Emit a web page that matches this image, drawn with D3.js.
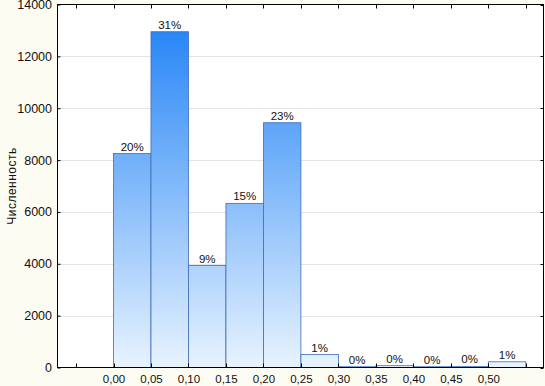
<!DOCTYPE html>
<html><head><meta charset="utf-8">
<script src="https://cdn.jsdelivr.net/npm/d3@7"></script>
<style>
body{margin:0;background:#fdfcf2;}
svg{display:block;font-family:"Liberation Sans",Arial,sans-serif;}
</style></head>
<body><svg id="c" width="545" height="386"></svg>
<script>
const binStarts = [0.00,0.05,0.10,0.15,0.20,0.25,0.30,0.35,0.40,0.45,0.50];
const counts = [8250,12950,3930,6330,9440,500,30,70,30,40,220];
const pctLabels = ["20%","31%","9%","15%","23%","1%","0%","0%","0%","0%","1%"];
const xTickLabels = ["0,00","0,05","0,10","0,15","0,20","0,25","0,30","0,35","0,40","0,45","0,50"];
const yTicks = [0,2000,4000,6000,8000,10000,12000,14000];
const yTitle = "Численность";

const svg = d3.select("#c");
const L=57.5, R=543.5, T=4.5, B=367.5;
const x = d3.scaleLinear().domain([0,0.55]).range([113.5,525.8]);
const y = d3.scaleLinear().domain([0,14000]).range([B,T]);

const defs = svg.append("defs");
const g = defs.append("linearGradient").attr("id","bg").attr("gradientUnits","userSpaceOnUse")
  .attr("x1",0).attr("x2",0).attr("y1",T).attr("y2",B);
g.append("stop").attr("offset","0%").attr("stop-color","#1a7ef5");
g.append("stop").attr("offset","100%").attr("stop-color","#e8f3ff");

svg.append("rect").attr("x",L).attr("y",T).attr("width",R-L).attr("height",B-T).attr("fill","#fff");

// gridlines
svg.append("g").selectAll("line").data(yTicks.filter(d=>d>0&&d<14000)).join("line")
  .attr("x1",L).attr("x2",R).attr("y1",d=>Math.round(y(d))+0.5).attr("y2",d=>Math.round(y(d))+0.5)
  .attr("stroke","#e4e4e4").attr("stroke-width",1);

// bars
svg.append("g").selectAll("rect").data(binStarts).join("rect")
  .attr("x",(d)=>x(d)).attr("width",(d)=>x(d+0.05)-x(d))
  .attr("y",(d,i)=>y(counts[i])).attr("height",(d,i)=>B-y(counts[i]))
  .attr("fill","url(#bg)").attr("stroke","#3d6db8").attr("stroke-width",0.8);

// pct labels
svg.append("g").selectAll("text").data(binStarts).join("text")
  .attr("x",d=>x(d+0.025)).attr("y",(d,i)=>y(counts[i])-3)
  .attr("text-anchor","middle").attr("font-size",11.5).attr("fill","#111")
  .text((d,i)=>pctLabels[i]);

// frame
svg.append("rect").attr("x",L).attr("y",T).attr("width",R-L).attr("height",B-T)
  .attr("fill","none").attr("stroke","#000").attr("stroke-width",1);

// bottom axis labels
const xAxis = d3.axisBottom(x).tickValues(binStarts).tickSize(0).tickPadding(7)
  .tickFormat((d,i)=>xTickLabels[i]);
const gx = svg.append("g").attr("transform",`translate(0,${B})`).call(xAxis);
gx.select(".domain").remove();
gx.selectAll("text").attr("font-size",11.5).attr("fill","#111").attr("font-family","Liberation Sans, Arial");

// inward ticks top and bottom
const tickXs = d3.range(-0.05,0.551,0.05);
svg.append("g").selectAll("line").data(tickXs).join("line")
  .attr("x1",d=>Math.round(x(d))+0.5).attr("x2",d=>Math.round(x(d))+0.5)
  .attr("y1",T).attr("y2",T+4).attr("stroke","#000");
svg.append("g").selectAll("line").data(tickXs).join("line")
  .attr("x1",d=>Math.round(x(d))+0.5).attr("x2",d=>Math.round(x(d))+0.5)
  .attr("y1",B).attr("y2",B-4).attr("stroke","#000");

// left axis
const yAxis = d3.axisLeft(y).tickValues(yTicks).tickSize(3).tickPadding(5.5).tickFormat(d3.format("d"));
const gy = svg.append("g").attr("transform",`translate(${L+3},0)`).call(yAxis);
gy.select(".domain").remove();
gy.selectAll("text").attr("font-size",12.5).attr("fill","#111").attr("font-family","Liberation Sans, Arial");
// right ticks
svg.append("g").selectAll("line").data(yTicks).join("line")
  .attr("x1",R-3).attr("x2",R).attr("y1",d=>Math.round(y(d))+0.5).attr("y2",d=>Math.round(y(d))+0.5)
  .attr("stroke","#000");

svg.append("text").attr("transform",`translate(16,${(T+B)/2}) rotate(-90)`)
  .attr("text-anchor","middle").attr("font-size",12).attr("letter-spacing",0.5).attr("fill","#111").text(yTitle);
</script></body></html>
